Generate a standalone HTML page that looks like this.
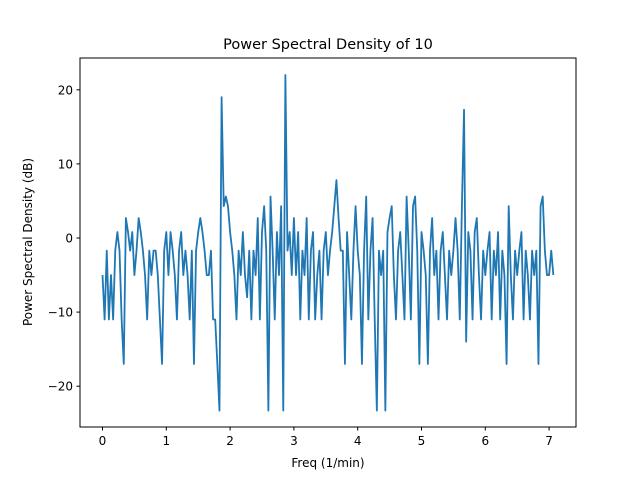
<!DOCTYPE html>
<html><head><meta charset="utf-8"><style>
body{margin:0;background:#fff;font-family:"Liberation Sans","DejaVu Sans",sans-serif}
</style></head><body>
<svg id="chart" width="640" height="480" xmlns="http://www.w3.org/2000/svg" font-family="DejaVu Sans, Liberation Sans, sans-serif">
<rect width="640" height="480" fill="#fff"/>
<text x="328" y="49" font-size="14.5" text-anchor="middle">Power Spectral Density of 10</text>
<text x="328" y="467" font-size="12" text-anchor="middle">Freq (1/min)</text>
<text x="32" y="242" font-size="12" text-anchor="middle" transform="rotate(-90 32 242)">Power Spectral Density (dB)</text>
<g id="plot"></g>
<rect x="80" y="58" width="496" height="369" fill="none" stroke="#000" stroke-width="1"/>
</svg>
<script>
const xTicks=[0,1,2,3,4,5,6,7];
const yTicks=[-20,-10,0,10,20];
const freqStep=1/30;
const psd=[
-5,-11,-1.7,-11,-5,-11,-1.7,0.8,-1.7,-11,-17,2.7,0.8,-1.7,0.8,-5,-1.7,2.7,0.8,-1.7,-5,-11,-1.7,-5,-1.7,-1.7,-5,-11,-17,-1.7,
0.8,-5,0.8,-1.7,-5,-11,-1.7,0.8,-5,-1.7,-5,-11,-1.7,-17,-1.7,0.8,2.7,0.8,-1.7,-5,-5,-1.7,-11,-11,-17,-23.3,19,4.3,5.6,4.3,
0.8,-1.7,-5,-11,-1.7,-5,0.8,-5,-8,-1.7,-11,-1.7,-5,2.7,-11,0.8,4.3,-1.7,-23.3,5.6,-1.7,-11,0.8,-5,4.3,-23.3,22,-1.7,0.8,-5,
2.7,-5,0.8,-11,-1.7,-5,2.7,-11,-1.7,0.8,-11,-5,-1.7,-11,-1.7,0.8,-5,-1.7,0.8,4.3,7.8,2.7,-1.7,-1.7,-17,0.8,-5,-11,-1.7,4.3,
-1.7,-5,-17,-1.7,5.6,-11,-1.7,2.7,-11,-23.3,-1.7,-5,-1.7,-23.3,0.8,2.7,4.3,-5,-11,-1.7,0.8,-5,-11,5.6,-1.7,-11,4.3,5.6,-1.7,-17,
0.8,-1.7,-5,-17,-1.7,2.7,-5,-1.7,-11,-1.7,0.8,-5,-11,-1.7,-5,-1.7,2.7,-1.7,-11,4.3,17.3,-14,0.8,-1.7,-11,0.8,2.7,-5,-11,-1.7,
-5,-1.7,0.8,-11,-1.7,-5,0.8,-11,-1.7,-5,-17,4.3,-5,-11,-1.7,-5,-1.7,0.8,-11,-1.7,-5,-11,-1.7,-5,-1.7,-17,4.3,5.6,-1.7,-5,
-5,-1.7,-5
];
const NS="http://www.w3.org/2000/svg";
const g=document.getElementById('plot');
const sx=v=>102.5+v*63.8;
const sy=v=>238-v*7.41;
function mk(t,a){const e=document.createElementNS(NS,t);for(const k in a)e.setAttribute(k,a[k]);g.appendChild(e);return e;}
xTicks.forEach(t=>{
 const l=mk('line',{x1:sx(t),x2:sx(t),y1:427,y2:430.5,stroke:'#000'});
 
 
 const tx=mk('text',{x:sx(t),y:445,'font-size':12,'text-anchor':'middle'});tx.textContent=t;
 
 
});
yTicks.forEach(t=>{
 const l=mk('line',{x1:76.5,x2:80,y1:sy(t),y2:sy(t),stroke:'#000'});
 
 
 const tx=mk('text',{x:73,y:sy(t)+4.5,'font-size':12,'text-anchor':'end'});tx.textContent=(t<0?'\u2212'+(-t):t);
 
 
});
const pts=psd.map((v,i)=>sx(i*freqStep).toFixed(2)+','+sy(v).toFixed(2)).join(' ');
const line=mk('polyline',{points:pts,fill:'none',stroke:'#1f77b4','stroke-width':1.8,'stroke-linejoin':'round'});


</script>
</body></html>
